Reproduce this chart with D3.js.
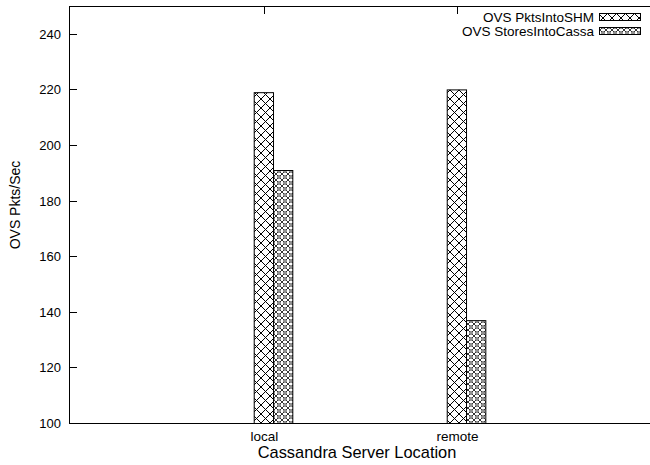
<!DOCTYPE html>
<html>
<head>
<meta charset="utf-8">
<script src="https://cdn.jsdelivr.net/npm/d3@7"></script>
<style>
  body { margin: 0; background: #fff; }
  text { font-family: "Liberation Sans", Arial, sans-serif; }
</style>
</head>
<body>
<div id="chart"></div>
<script>
// chart data
var locations = ["local", "remote"];
var seriesNames = ["OVS PktsIntoSHM", "OVS StoresIntoCassa"];
var pktsIntoSHM = [219, 220];
var storesIntoCassa = [191, 137];
var yTicks = [100, 120, 140, 160, 180, 200, 220, 240];

var W = 650, H = 465;
// plot box (note: "top" is reserved on window, so use a margin object)
var box = {left: 69, right: 649, top: 6, bottom: 423};

var svg = d3.select("#chart").append("svg")
    .attr("width", W)
    .attr("height", H);

// hatch patterns
var defs = svg.append("defs");
var p1 = defs.append("pattern")
    .attr("id", "hatch1")
    .attr("patternUnits", "userSpaceOnUse")
    .attr("width", 9).attr("height", 9);
p1.append("rect").attr("width", 9).attr("height", 9).attr("fill", "#fff");
p1.append("path").attr("d", "M0,0L9,9M9,0L0,9")
    .attr("stroke", "#000").attr("stroke-width", 1).attr("fill", "none");

var p2 = defs.append("pattern")
    .attr("id", "hatch2")
    .attr("patternUnits", "userSpaceOnUse")
    .attr("width", 6).attr("height", 6);
p2.append("rect").attr("width", 6).attr("height", 6).attr("fill", "#fff");
p2.append("path").attr("d", "M0,0L6,6M6,0L0,6")
    .attr("stroke", "#000").attr("stroke-width", 0.8).attr("fill", "none");
p2.append("rect").attr("x", 2).attr("y", 2).attr("width", 2).attr("height", 2).attr("fill", "#fff");
p2.append("circle").attr("cx", 3).attr("cy", 3).attr("r", 1.3)
    .attr("fill", "none").attr("stroke", "#000").attr("stroke-width", 0.7);

var patterns = ["url(#hatch1)", "url(#hatch2)"];

// scales
var x = d3.scaleLinear()
  .domain([-1.057, 1.948])
  .range([box.left, box.right]);
var y = d3.scaleLinear()
  .domain([100, 250])
  .range([box.bottom, box.top]);
var barW = x(0.1) - x(0);
var tickShift = -9; // gnuplot puts the cluster tic a bit left of the bar pair

// frame: left, top, bottom (right edge falls off the picture)
var frame = svg.append("g").attr("stroke", "#000").attr("stroke-width", 1);
frame.append("line").attr("x1", box.left + 0.5).attr("x2", box.left + 0.5)
    .attr("y1", box.top).attr("y2", box.bottom + 1);
frame.append("line").attr("x1", box.left).attr("x2", W)
    .attr("y1", box.top + 0.5).attr("y2", box.top + 0.5);
frame.append("line").attr("x1", box.left).attr("x2", W)
    .attr("y1", box.bottom + 0.5).attr("y2", box.bottom + 0.5);

// y ticks (inward)
var yAxis = svg.append("g");
yTicks.forEach(function(t) {
  var yy = Math.round(y(t)) + 0.5;
  yAxis.append("line").attr("x1", box.left).attr("x2", box.left + 8).attr("y1", yy).attr("y2", yy)
      .attr("stroke", "#000");
  yAxis.append("text")
      .attr("x", box.left - 8).attr("y", yy + 4.5)
      .attr("text-anchor", "end")
      .attr("font-size", 13)
      .text(t);
});

// x ticks + labels
locations.forEach(function(name, i) {
  var xx = Math.round(x(i) + tickShift) + 0.5;
  svg.append("line").attr("x1", xx).attr("x2", xx).attr("y1", box.top).attr("y2", box.top + 8)
      .attr("stroke", "#000");
  svg.append("line").attr("x1", xx).attr("x2", xx).attr("y1", box.bottom - 8).attr("y2", box.bottom)
      .attr("stroke", "#000");
  svg.append("text")
      .attr("x", xx).attr("y", box.bottom + 18)
      .attr("text-anchor", "middle")
      .attr("font-size", 13.5)
      .text(name);
});

// bars
var series = [pktsIntoSHM, storesIntoCassa];
series.forEach(function(vals, s) {
  svg.selectAll(".bar" + s)
    .data(vals)
    .enter()
    .append("rect")
      .attr("x", function(d, i) { return x(i) + (s - 1) * barW + 0.5; })
      .attr("y", function(d) { return y(d) + 0.5; })
      .attr("width", barW)
      .attr("height", function(d) { return y(100) - y(d); })
      .attr("fill", patterns[s])
      .attr("stroke", "#000")
      .attr("stroke-width", 1);
});

// axis titles
svg.append("text")
    .attr("x", 357).attr("y", 458)
    .attr("text-anchor", "middle")
    .attr("font-size", 16.4)
    .text("Cassandra Server Location");

svg.append("text")
    .attr("transform", "translate(20,205)rotate(-90)")
    .attr("text-anchor", "middle")
    .attr("font-size", 14)
    .text("OVS Pkts/Sec");

// legend
var legend = svg.append("g");
seriesNames.forEach(function(name, i) {
  var ly = 17 + i * 14;
  legend.append("text")
      .attr("x", 594).attr("y", ly + 4.5)
      .attr("text-anchor", "end")
      .attr("font-size", 13.5)
      .text(name);
  legend.append("rect")
      .attr("x", 599.5).attr("y", ly - 3.5)
      .attr("width", 41).attr("height", 7)
      .attr("fill", patterns[i])
      .attr("stroke", "#000");
});
</script>
</body>
</html>
